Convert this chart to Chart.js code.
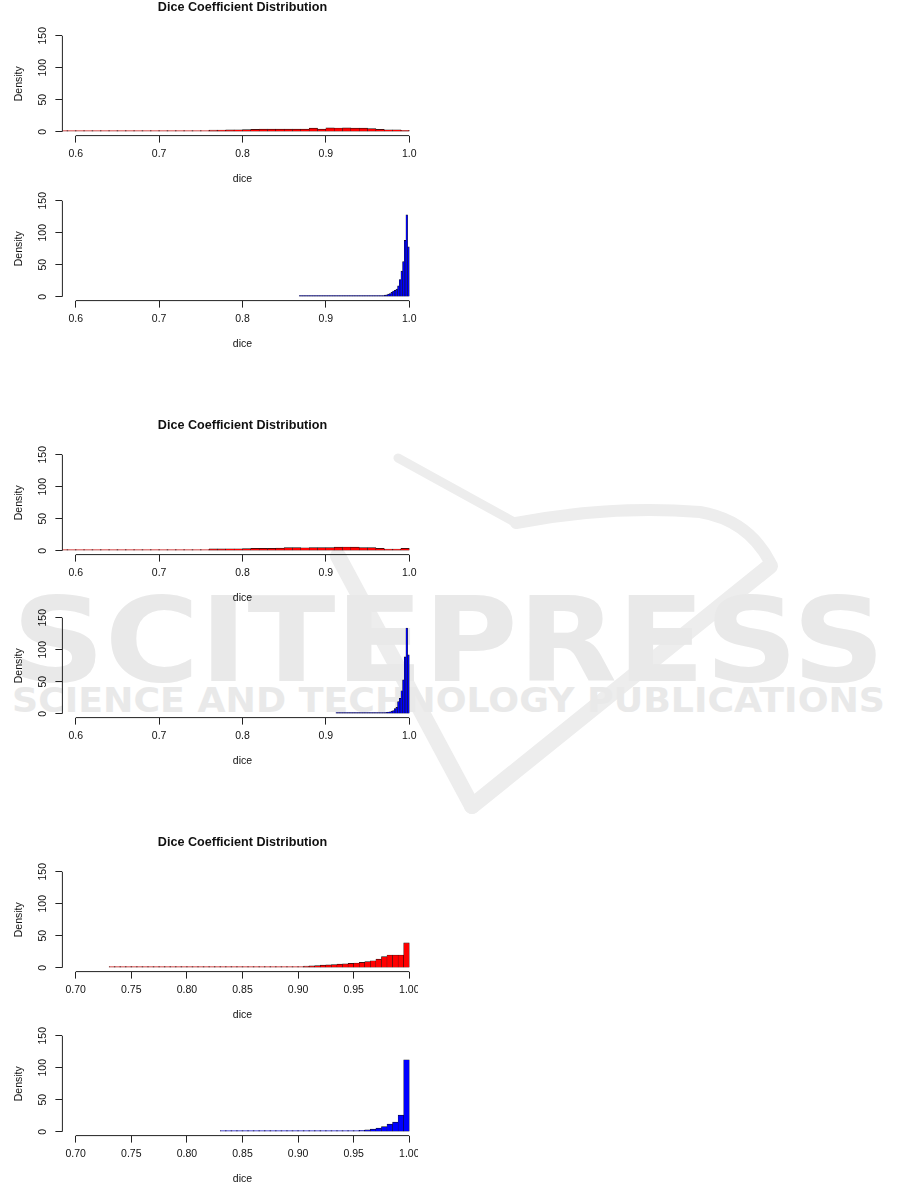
<!DOCTYPE html>
<html><head><meta charset="utf-8">
<script src="https://cdn.jsdelivr.net/npm/chart.js@4.4.1/dist/chart.umd.min.js"></script>
<style>
html,body{margin:0;padding:0;background:#fff;width:901px;height:1184px;overflow:hidden;}
#wm{position:absolute;left:0;top:0;z-index:0}
.panel{position:absolute;left:0;width:418px;height:190px;overflow:hidden;z-index:1}
.panel canvas{display:block}
</style></head><body>
<svg id="wm" width="901" height="1184" xmlns="http://www.w3.org/2000/svg">
  <g fill="none" stroke="#ededed" stroke-linecap="round" stroke-linejoin="round">
    <path d="M398 458 L516 523" stroke-width="9"/>
    <path d="M516 523 Q610 505 700 512 Q748 520 770 562" stroke-width="12"/>
    <path d="M338 556 L472 806" stroke-width="16"/>
    <path d="M472 806 L770 566" stroke-width="16"/>
  </g>
  <text x="12" y="681" font-family="DejaVu Sans" font-weight="bold" font-size="118" textLength="873" lengthAdjust="spacingAndGlyphs" fill="#e9e9e9">SCITEPRESS</text>
  <text x="12" y="712" font-family="DejaVu Sans" font-weight="bold" font-size="33" textLength="873" lengthAdjust="spacingAndGlyphs" fill="#e9e9e9">SCIENCE AND TECHNOLOGY PUBLICATIONS</text>
</svg>
<div class="panel" style="top:0px"><canvas id="c1" width="440" height="190"></canvas></div>
<div class="panel" style="top:165px"><canvas id="c2" width="440" height="190"></canvas></div>
<div class="panel" style="top:418.6px"><canvas id="c3" width="440" height="190"></canvas></div>
<div class="panel" style="top:581.6px"><canvas id="c4" width="440" height="190"></canvas></div>
<div class="panel" style="top:836px"><canvas id="c5" width="440" height="190"></canvas></div>
<div class="panel" style="top:1000px"><canvas id="c6" width="440" height="190"></canvas></div>
<script>
// ---------- DATA ----------
const mainTitle = 'Dice Coefficient Distribution';
const xTitle = 'dice';
const yTitle = 'Density';

const yTicks = [0, 50, 100, 150];
const yLabels = ['0', '50', '100', '150'];
const xTicksWide = [0.6, 0.7, 0.8, 0.9, 1.0];
const xLabelsWide = ['0.6', '0.7', '0.8', '0.9', '1.0'];
const xTicksNarrow = [0.70, 0.75, 0.80, 0.85, 0.90, 0.95, 1.00];
const xLabelsNarrow = ['0.70', '0.75', '0.80', '0.85', '0.90', '0.95', '1.00'];

// histogram 1 (red): breaks from 0.58 by 0.01
const red1Start = 0.58, red1Width = 0.01;
const red1Density = [0.2,0.2,0.3,0.3,0.4,0.4,0.4,0.5,0.6,0.8,0.9,1.0,
  1.2,1.4,1.5,1.6,1.8,2.0,2.5,2.8,3.1,3.2,
  3.5,3.9,4.0,4.1,4.1,4.3,4.2,4.1,5.6,4.1,
  6.0,5.9,6.0,5.8,5.6,5.0,3.9,3.2,3.2,2.3];

// histogram 2 (blue): breaks from 0.868 by 0.002
const blue1Start = 0.868, blue1Width = 0.002;
const blue1Density = [0.3,0.2,0.2,0.2,0.2,0.3,0.2,0.3,0.3,0.2,0.3,0.3,0.3,0.4,0.3,0.3,
  0.4,0.4,0.3,0.4,0.5,0.4,0.4,0.5,0.5,0.4,0.5,0.6,0.5,0.7,0.6,0.8,0.7,0.9,0.8,0.7,
  0.8,0.9,0.8,0.9,0.8,0.9,1.0,
  1.0,1.8,2.0,2.0,1.5,1.2,1.5,2.0,2.5,3.0,4.0,5.0,7.0,9.0,10,12,17,27,40,55,88,128,78];

// histogram 3 (red): breaks from 0.58 by 0.01
const red2Start = 0.58, red2Width = 0.01;
const red2Density = [0.2,0.2,0.3,0.3,0.4,0.4,0.5,0.6,0.6,0.7,0.8,1.0,
  1.3,1.5,1.6,1.6,1.7,1.8,3.0,3.1,3.2,3.2,
  3.4,3.6,3.7,3.9,4.0,4.8,4.9,4.7,5.0,5.0,
  4.9,5.7,5.9,5.8,5.0,4.8,3.9,2.8,2.6,3.7];

// histogram 4 (blue): breaks from 0.912 by 0.002
const blue2Start = 0.912, blue2Width = 0.002;
const blue2Density = [0.1,0.1,0.1,0.2,0.1,0.2,0.2,0.2,0.3,0.2,0.3,0.3,0.3,0.4,0.4,0.5,
  0.5,0.6,0.6,0.7,0.8,0.8,0.9,1.0,
  1.0,1.2,1.4,1.6,1.7,1.9,2.2,2.6,3.2,4.0,5.0,8,10,19,24,36,53,89,134,92];

// histogram 5 (red): breaks from 0.73 by 0.005
const red3Start = 0.73, red3Width = 0.005;
const red3Density = [0.1,0.1,0.1,0.1,0.1,0.1,0.1,0.1,0.2,0.1,0.2,0.2,0.2,0.2,0.2,0.3,
  0.3,0.3,0.3,0.4,0.4,0.4,0.4,0.5,0.5,0.5,0.5,
  0.6,0.7,0.8,0.9,1.0,1.2,1.6,2.0,2.5,3.0,3.4,4.0,4.5,5.0,5.6,6.2,6.8,7.5,8.3,9.5,
  11,13.5,17.5,20,20,20,39];

// histogram 6 (blue): breaks from 0.83 by 0.005
const blue3Start = 0.83, blue3Width = 0.005;
const blue3Density = [0.2,0.2,0.2,0.2,0.3,0.2,0.3,0.3,0.3,0.3,0.4,0.4,0.4,0.5,0.5,0.5,
  0.6,0.6,0.7,0.7,0.8,0.9,1.0,1.2,
  1.6,2.1,3.1,4.2,5.7,8.0,12,15,26,112.5];

// ---------- DRAWING ----------
Chart.defaults.font.family = "'Liberation Sans', Arial, Helvetica, sans-serif";
Chart.defaults.color = '#111';

const axisLines = {
  id: 'axisLines',
  afterDraw(chart) {
    const {ctx, chartArea, scales: {x, y}} = chart;
    const xt = x.ticks, yt = y.ticks;
    ctx.save();
    ctx.strokeStyle = '#222';
    ctx.lineWidth = 1;
    ctx.beginPath();
    ctx.moveTo(x.getPixelForValue(xt[0].value), chartArea.bottom);
    ctx.lineTo(x.getPixelForValue(xt[xt.length - 1].value), chartArea.bottom);
    ctx.moveTo(chartArea.left, y.getPixelForValue(yt[0].value));
    ctx.lineTo(chartArea.left, y.getPixelForValue(yt[yt.length - 1].value));
    ctx.stroke();
    ctx.restore();
  }
};

function makeHist(id, opt) {
  const CW = 440, CH = 190;
  const plotLeft = 62.4, plotRight = 422.6, plotTop = 31.9, plotBottom = 135.6;
  const titleDy = opt.titleDy || 0;
  const pts = opt.values.map((v, i) => ({x: opt.start + (i + 0.5) * opt.width, y: v}));
  new Chart(document.getElementById(id), {
    type: 'bar',
    data: { datasets: [{
      data: pts,
      backgroundColor: opt.color,
      borderColor: '#111',
      borderWidth: {top: 0.7, bottom: 0.4, left: 0.45, right: 0.45},
      borderSkipped: false,
      minBarLength: 1.3,
      barPercentage: 1,
      categoryPercentage: 1
    }]},
    plugins: [axisLines],
    options: {
      responsive: false,
      animation: false,
      devicePixelRatio: 1,
      layout: { padding: { left: 0, right: CW - plotRight, top: opt.title ? 0 : plotTop, bottom: 0 } },
      plugins: {
        legend: { display: false },
        tooltip: { enabled: false },
        title: {
          display: !!opt.title,
          text: mainTitle,
          fullSize: false,
          color: '#111',
          font: { size: 12.6, weight: 'bold', lineHeight: 1 },
          padding: { top: titleDy, bottom: plotTop - 12.6 - titleDy }
        }
      },
      scales: {
        x: {
          type: 'linear',
          min: opt.xmin, max: opt.xmax,
          offset: false,
          afterBuildTicks: s => { s.ticks = opt.xTicks.map(v => ({value: v})); },
          afterFit: s => { s.height = CH - plotBottom; s.paddingLeft = 0; s.paddingRight = 0; s.paddingTop = 0; s.paddingBottom = 0; },
          ticks: {
            autoSkip: false, maxRotation: 0, minRotation: 0, padding: 5.6,
            font: { size: 10.5 }, color: '#111',
            callback: (v, i) => opt.xLabels[i]
          },
          grid: { display: true, drawOnChartArea: false, drawTicks: true, tickLength: 7, tickColor: '#222', offset: false },
          border: { display: false },
          title: { display: true, text: xTitle, color: '#111', font: { size: 10.5 }, padding: { top: 0, bottom: 4.2 } }
        },
        y: {
          type: 'linear',
          min: -6, max: 156,
          beginAtZero: false,
          afterBuildTicks: s => { s.ticks = yTicks.map(v => ({value: v})); },
          afterFit: s => { s.width = plotLeft; s.paddingTop = 0; s.paddingBottom = 0; s.paddingLeft = 0; s.paddingRight = 0; },
          ticks: {
            autoSkip: false, minRotation: 90, maxRotation: 90, crossAlign: 'center', padding: 3.3,
            font: { size: 10.5 }, color: '#111',
            callback: (v, i) => yLabels[i]
          },
          grid: { display: true, drawOnChartArea: false, drawTicks: true, tickLength: 7, tickColor: '#222' },
          border: { display: false },
          title: { display: true, text: yTitle, color: '#111', font: { size: 10.5 }, padding: { top: 12.7, bottom: 0 } }
        }
      }
    }
  });
}

makeHist('c1', {title: true, titleDy: 1.5, color: '#ff0000', start: red1Start,  width: red1Width,  values: red1Density,  xmin: 0.584, xmax: 1.016, xTicks: xTicksWide,   xLabels: xLabelsWide});
makeHist('c2', {title: false, color: '#0000ff', start: blue1Start, width: blue1Width, values: blue1Density, xmin: 0.584, xmax: 1.016, xTicks: xTicksWide,   xLabels: xLabelsWide});
makeHist('c3', {title: true, titleDy: 0.6, color: '#ff0000', start: red2Start,  width: red2Width,  values: red2Density,  xmin: 0.584, xmax: 1.016, xTicks: xTicksWide,   xLabels: xLabelsWide});
makeHist('c4', {title: false, color: '#0000ff', start: blue2Start, width: blue2Width, values: blue2Density, xmin: 0.584, xmax: 1.016, xTicks: xTicksWide,   xLabels: xLabelsWide});
makeHist('c5', {title: true, titleDy: 0.3, color: '#ff0000', start: red3Start,  width: red3Width,  values: red3Density,  xmin: 0.688, xmax: 1.012, xTicks: xTicksNarrow, xLabels: xLabelsNarrow});
makeHist('c6', {title: false, color: '#0000ff', start: blue3Start, width: blue3Width, values: blue3Density, xmin: 0.688, xmax: 1.012, xTicks: xTicksNarrow, xLabels: xLabelsNarrow});
</script>
</body></html>
